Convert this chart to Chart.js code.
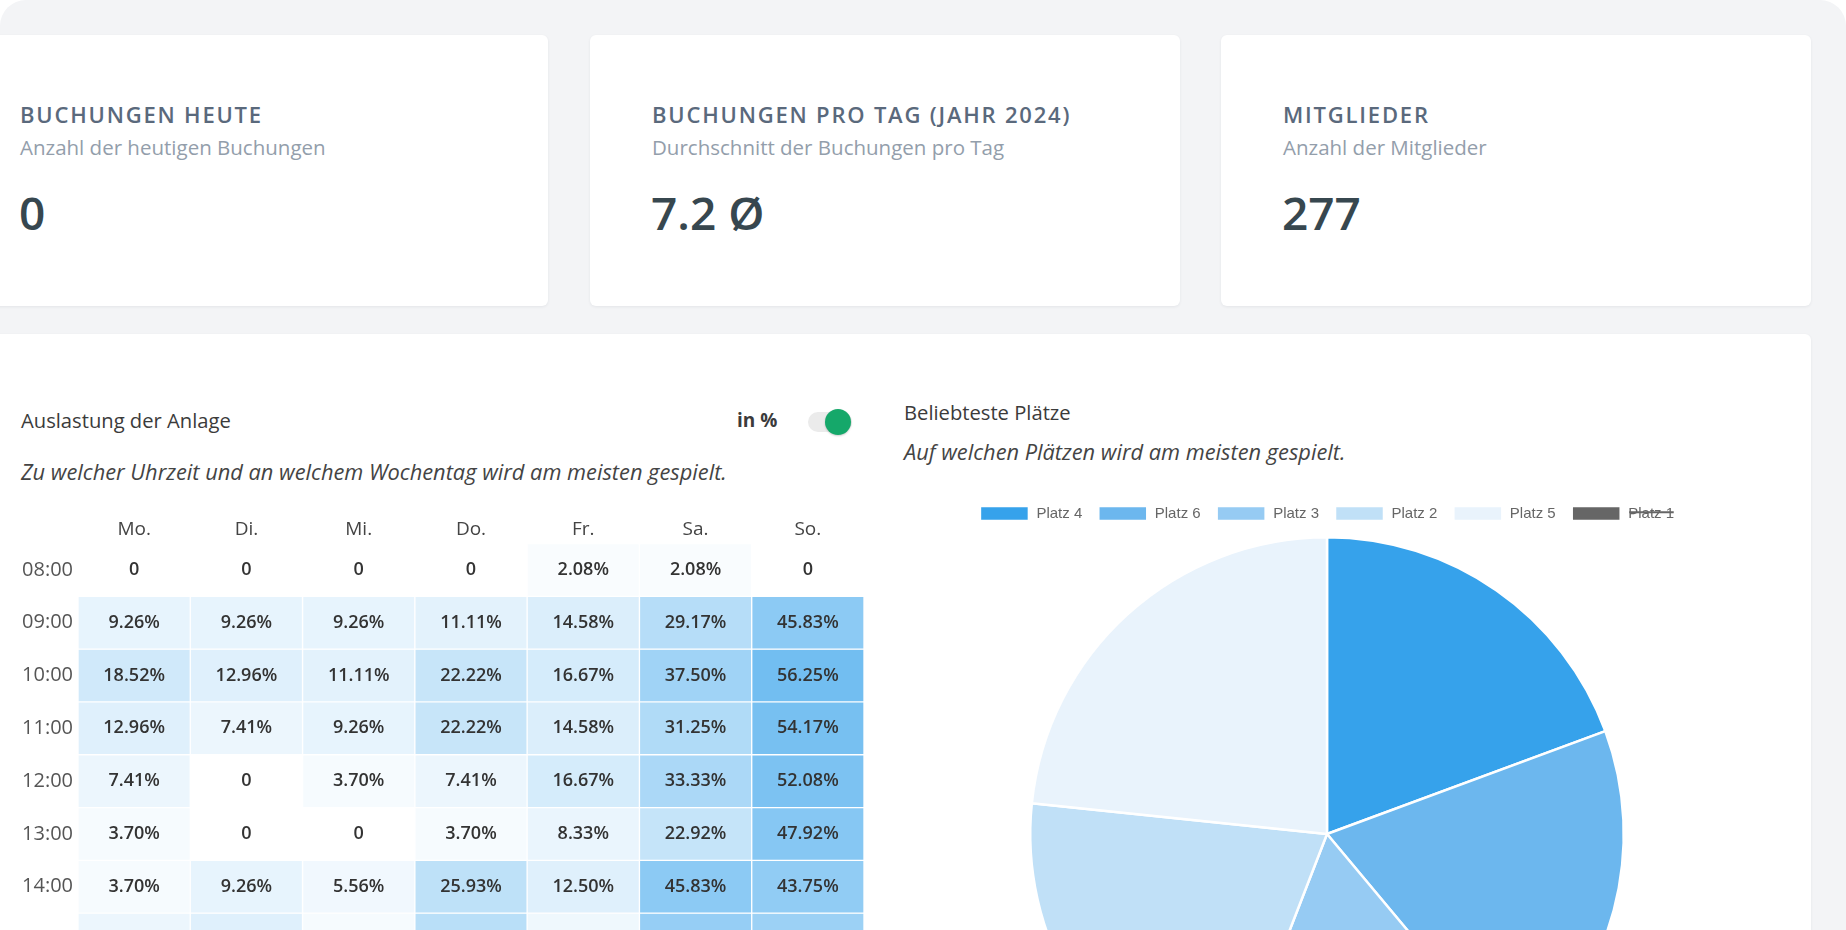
<!DOCTYPE html>
<html lang="de">
<head>
<meta charset="utf-8">
<title>Dashboard</title>
<script src="https://cdn.jsdelivr.net/npm/chart.js@4.4.1/dist/chart.umd.min.js"></script>
<style>
  html, body { margin: 0; padding: 0; background: #fff; overflow: hidden; }
  body { width: 1846px; height: 930px; position: relative; font-family: 'Open Sans', sans-serif; }
  .frame { position: absolute; left: 0; top: 0; width: 1846px; height: 1000px; background: #f3f4f6; border-radius: 26px 26px 0 0; }
  .card { position: absolute; background: #fff; border-radius: 6px; box-shadow: 0 1px 3px rgba(30, 40, 60, 0.07); }
  .kpi { top: 35px; width: 590px; height: 271px; }
  .kpi h3 { position: absolute; left: 62px; top: 64px; margin: 0; font-size: 22px; line-height: 30px; font-weight: 600; letter-spacing: 1.8px; color: #5a697c; white-space: nowrap; }
  .kpi p { position: absolute; left: 62px; top: 99px; margin: 0; font-size: 20.5px; line-height: 26px; color: #939eab; white-space: nowrap; }
  .kpi .wert { position: absolute; left: 61px; top: 146px; font-size: 46px; line-height: 62px; font-weight: 600; color: #37474f; }
  .txt { position: absolute; margin: 0; font-size: 20.2px; line-height: 26px; color: #3b3b3b; white-space: nowrap; }
  .txt.kursiv { font-style: italic; font-size: 21.8px; line-height: 30px; color: #444; }
  .switch { position: absolute; left: 808px; top: 412px; width: 44px; height: 20px; border-radius: 10px; background: #ebebeb; }
  .switch .knob { position: absolute; left: 17px; top: -3px; width: 26px; height: 26px; border-radius: 50%; background: #15a86a; box-shadow: 0 1px 2px rgba(0,0,0,0.2); }
  #heatWrap { position: absolute; left: 0; top: 495px; width: 864px; height: 488px; }
  #pieWrap { position: absolute; left: 904px; top: 490px; width: 846px; height: 642px; }
</style>
</head>
<body>
<div class="frame"></div>

<div class="card kpi" style="left:-42px">
  <h3>BUCHUNGEN HEUTE</h3>
  <p>Anzahl der heutigen Buchungen</p>
  <div class="wert">0</div>
</div>
<div class="card kpi" style="left:590px">
  <h3>BUCHUNGEN PRO TAG (JAHR 2024)</h3>
  <p>Durchschnitt der Buchungen pro Tag</p>
  <div class="wert">7.2 Ø</div>
</div>
<div class="card kpi" style="left:1221px">
  <h3>MITGLIEDER</h3>
  <p>Anzahl der Mitglieder</p>
  <div class="wert">277</div>
</div>

<div class="card" style="left:-42px; top:334px; width:1853px; height:700px;"></div>

<p class="txt" style="left:21px; top:407px;">Auslastung der Anlage</p>
<p class="txt" style="left:737px; top:407px; font-weight:700; font-size:19px;">in %</p>
<div class="switch"><div class="knob"></div></div>
<p class="txt kursiv" style="left:21px; top:457px;">Zu welcher Uhrzeit und an welchem Wochentag wird am meisten gespielt.</p>

<p class="txt" style="left:904px; top:399px;">Beliebteste Plätze</p>
<p class="txt kursiv" style="left:904px; top:437px;">Auf welchen Plätzen wird am meisten gespielt.</p>

<div id="heatWrap"><canvas id="auslastung"></canvas></div>
<div id="pieWrap"><canvas id="plaetze"></canvas></div>

<script>
// Auslastung in % je Uhrzeit und Wochentag
const tage = ['Mo.', 'Di.', 'Mi.', 'Do.', 'Fr.', 'Sa.', 'So.'];
const uhrzeiten = ['08:00', '09:00', '10:00', '11:00', '12:00', '13:00', '14:00', '15:00'];
const h08 = [0, 0, 0, 0, 2.08, 2.08, 0];
const h09 = [9.26, 9.26, 9.26, 11.11, 14.58, 29.17, 45.83];
const h10 = [18.52, 12.96, 11.11, 22.22, 16.67, 37.50, 56.25];
const h11 = [12.96, 7.41, 9.26, 22.22, 14.58, 31.25, 54.17];
const h12 = [7.41, 0, 3.70, 7.41, 16.67, 33.33, 52.08];
const h13 = [3.70, 0, 0, 3.70, 8.33, 22.92, 47.92];
const h14 = [3.70, 9.26, 5.56, 25.93, 12.50, 45.83, 43.75];
const h15 = [7.41, 12.96, 3.70, 27.78, 6.25, 41.67, 39.58]; // nur angeschnitten sichtbar, geschätzt
const auslastung = [h08, h09, h10, h11, h12, h13, h14, h15];

// Beliebteste Plätze
const plaetze = ['Platz 4', 'Platz 6', 'Platz 3', 'Platz 2', 'Platz 5', 'Platz 1'];
const buchungen = [97, 98, 85, 104, 117, 130];
const platzFarben = ['#36a2eb', '#6cb7ee', '#96cbf3', '#c0e0f7', '#e9f3fc', '#666666'];

const farbe = v => `rgba(54, 162, 235, ${v / 80})`;
const format = v => v === 0 ? '0' : v.toFixed(2) + '%';

const zellenText = {
  id: 'zellenText',
  afterDatasetsDraw(chart) {
    const ctx = chart.ctx;
    ctx.save();
    ctx.font = '600 18px "Open Sans"';
    ctx.fillStyle = '#333';
    ctx.textAlign = 'center';
    ctx.textBaseline = 'middle';
    auslastung.forEach((reihe, i) => {
      chart.getDatasetMeta(i).data.forEach((bar, j) => {
        ctx.fillText(format(reihe[j]), bar.x, (bar.y + bar.base) / 2);
      });
    });
    ctx.restore();
  }
};

// etwas Abstand unter der Legende
const legendeAbstand = {
  id: 'legendeAbstand',
  beforeInit(chart) {
    const fit = chart.legend.fit;
    chart.legend.fit = function () {
      fit.call(this);
      this.height += 5;
    };
  }
};

new Chart(document.getElementById('auslastung'), {
  type: 'bar',
  data: {
    labels: tage,
    datasets: auslastung.map((reihe, i) => ({
      label: uhrzeiten[i],
      data: reihe.map(() => [i, i + 1]),
      backgroundColor: reihe.map(farbe),
      borderColor: '#fff',
      borderWidth: 1,
      borderSkipped: false,
      barPercentage: 1,
      categoryPercentage: 1,
      grouped: false
    }))
  },
  options: {
    responsive: true,
    maintainAspectRatio: false,
    animation: false,
    events: [],
    layout: { padding: 0 },
    plugins: { legend: { display: false }, tooltip: { enabled: false } },
    scales: {
      x: {
        position: 'top',
        grid: { display: false, drawTicks: false },
        border: { display: false },
        ticks: { color: '#444', font: { family: 'Open Sans', size: 19 }, padding: 3 },
        afterFit: s => { s.height = 48.5; }
      },
      y: {
        min: 0,
        max: uhrzeiten.length,
        reverse: true,
        grid: { display: false, drawTicks: false },
        border: { display: false },
        afterBuildTicks: s => { s.ticks = uhrzeiten.map((u, i) => ({ value: i + 0.5 })); },
        ticks: {
          color: '#555',
          font: { family: 'Open Sans', size: 20 },
          padding: 5,
          autoSkip: false,
          callback: (v, idx) => uhrzeiten[idx]
        },
        afterFit: s => { s.width = 78; }
      }
    }
  },
  plugins: [zellenText]
});

const pie = new Chart(document.getElementById('plaetze'), {
  type: 'pie',
  data: {
    labels: plaetze,
    datasets: [{
      data: buchungen,
      backgroundColor: platzFarben,
      borderColor: '#fff',
      borderWidth: 2.5
    }]
  },
  options: {
    responsive: true,
    maintainAspectRatio: false,
    animation: false,
    plugins: {
      legend: {
        position: 'top',
        labels: { boxWidth: 49, boxHeight: 15, padding: 16, color: '#666', font: { size: 15 } }
      },
      tooltip: { enabled: false }
    }
  },
  plugins: [legendeAbstand]
});
pie.toggleDataVisibility(5);
pie.update();
</script>
</body>
</html>
